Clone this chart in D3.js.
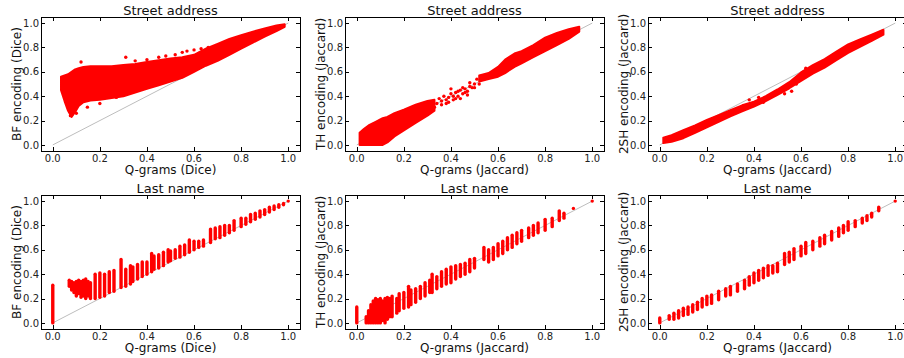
<!DOCTYPE html>
<html>
<head>
<meta charset="utf-8">
<script src="https://cdn.jsdelivr.net/npm/d3@7"></script>
<style>
  body { margin: 0; background: #fff; }
  svg { font-family: "DejaVu Sans", sans-serif; }
</style>
</head>
<body>
<svg id="chart" width="904" height="358"></svg>
<script>
// axis ticks shared by every panel
const tickValues = [0.0, 0.2, 0.4, 0.6, 0.8, 1.0];

// Street address: dense clouds read as envelopes [x, yLow, yHigh]
const streetBF = [
  [0.035, 0.45, 0.56], [0.05, 0.36, 0.57], [0.065, 0.28, 0.58], [0.08, 0.23, 0.6],
  [0.095, 0.27, 0.62], [0.11, 0.32, 0.63], [0.13, 0.35, 0.64], [0.16, 0.365, 0.645],
  [0.2, 0.37, 0.645], [0.25, 0.385, 0.645], [0.3, 0.4, 0.655], [0.35, 0.43, 0.665],
  [0.4, 0.46, 0.68], [0.45, 0.49, 0.695], [0.5, 0.52, 0.71], [0.55, 0.55, 0.72],
  [0.6, 0.6, 0.74], [0.65, 0.65, 0.79], [0.7, 0.69, 0.83], [0.75, 0.74, 0.87],
  [0.8, 0.79, 0.9], [0.85, 0.84, 0.93], [0.9, 0.89, 0.955], [0.95, 0.935, 0.98],
  [0.985, 0.97, 0.99]
];
const streetBFOut = [
  [0.31, 0.72], [0.12, 0.68], [0.147, 0.31], [0.27, 0.39], [0.45, 0.72], [0.52, 0.74],
  [0.57, 0.77], [0.6, 0.78], [0.62, 0.75], [0.66, 0.8], [0.1, 0.26], [0.075, 0.24],
  [0.4, 0.7], [0.48, 0.73], [0.55, 0.76], [0.63, 0.79], [0.2, 0.34], [0.35, 0.69]
];

const streetTH = [
  [0.012, 0.0, 0.1], [0.03, 0.0, 0.13], [0.05, 0.0, 0.16], [0.08, 0.0, 0.19],
  [0.11, 0.0, 0.22], [0.13, 0.02, 0.23], [0.16, 0.07, 0.26], [0.2, 0.12, 0.29],
  [0.25, 0.18, 0.33], [0.3, 0.24, 0.36], [0.33, 0.28, 0.37]
];
const streetTH2 = [
  [0.52, 0.52, 0.57], [0.56, 0.54, 0.59], [0.6, 0.56, 0.64], [0.63, 0.59, 0.7],
  [0.67, 0.64, 0.75], [0.7, 0.67, 0.77], [0.75, 0.72, 0.82], [0.8, 0.77, 0.88],
  [0.85, 0.82, 0.92], [0.9, 0.87, 0.95], [0.945, 0.93, 0.97]
];
const streetTHOut = [
  [0.36, 0.33], [0.38, 0.37], [0.4, 0.42], [0.42, 0.38], [0.44, 0.45], [0.45, 0.42],
  [0.47, 0.44], [0.48, 0.48], [0.4, 0.46], [0.37, 0.4], [0.43, 0.4], [0.5, 0.5],
  [0.39, 0.35], [0.41, 0.4], [0.46, 0.46], [0.49, 0.47], [0.35, 0.38], [0.44, 0.38],
  [0.51, 0.54], [0.48, 0.51], [0.42, 0.43], [0.34, 0.34], [0.36, 0.36], [0.38, 0.34],
  [0.41, 0.37], [0.43, 0.44], [0.46, 0.43], [0.5, 0.47], [0.45, 0.47], [0.39, 0.39],
  [0.33, 0.31], [0.47, 0.41], [0.52, 0.5]
];

const street2SH = [
  [0.015, 0.015, 0.06], [0.05, 0.025, 0.08], [0.1, 0.055, 0.12], [0.15, 0.1, 0.16],
  [0.2, 0.145, 0.205], [0.25, 0.19, 0.245], [0.3, 0.235, 0.285], [0.35, 0.275, 0.325],
  [0.4, 0.315, 0.355], [0.45, 0.36, 0.4], [0.5, 0.41, 0.455], [0.55, 0.465, 0.515],
  [0.6, 0.525, 0.595], [0.65, 0.585, 0.655], [0.7, 0.635, 0.705], [0.75, 0.695, 0.765],
  [0.8, 0.755, 0.825], [0.85, 0.805, 0.865], [0.9, 0.855, 0.905], [0.95, 0.905, 0.945]
];
const street2SHOut = [
  [0.38, 0.37], [0.42, 0.39], [0.47, 0.4], [0.52, 0.45], [0.53, 0.42], [0.44, 0.35],
  [0.56, 0.44], [0.58, 0.5], [0.62, 0.63]
];

// Last name: discrete columns [x, yLow, yHigh]
const lastBF = [
  [0.0, 0.0, 0.31], [0.07, 0.3, 0.35], [0.08, 0.27, 0.34], [0.09, 0.25, 0.33],
  [0.1, 0.22, 0.34], [0.11, 0.24, 0.35], [0.12, 0.21, 0.34], [0.13, 0.22, 0.35],
  [0.14, 0.2, 0.36], [0.15, 0.22, 0.34], [0.16, 0.2, 0.33], [0.18, 0.2, 0.4],
  [0.2, 0.21, 0.41], [0.22, 0.22, 0.4], [0.24, 0.25, 0.42], [0.26, 0.26, 0.43],
  [0.29, 0.29, 0.52], [0.31, 0.3, 0.44], [0.33, 0.32, 0.47], [0.34, 0.34, 0.46],
  [0.36, 0.36, 0.48], [0.38, 0.38, 0.5], [0.4, 0.4, 0.5], [0.42, 0.42, 0.57],
  [0.43, 0.44, 0.55], [0.45, 0.45, 0.56], [0.47, 0.47, 0.58], [0.49, 0.5, 0.6],
  [0.5, 0.51, 0.59], [0.52, 0.53, 0.6], [0.54, 0.54, 0.63], [0.56, 0.56, 0.64],
  [0.58, 0.58, 0.68], [0.6, 0.6, 0.67], [0.62, 0.62, 0.67], [0.64, 0.63, 0.68],
  [0.67, 0.66, 0.77], [0.69, 0.69, 0.78], [0.71, 0.7, 0.79], [0.73, 0.72, 0.8],
  [0.75, 0.74, 0.8], [0.77, 0.76, 0.84], [0.8, 0.79, 0.86], [0.82, 0.81, 0.86],
  [0.84, 0.83, 0.89], [0.86, 0.85, 0.9], [0.88, 0.87, 0.92], [0.9, 0.89, 0.93],
  [0.92, 0.91, 0.95], [0.94, 0.93, 0.96], [0.96, 0.95, 0.97], [0.98, 0.97, 0.98],
  [1.0, 1.0, 1.0]
];
const lastTH = [
  [0.0, 0.0, 0.13], [0.04, 0.0, 0.05], [0.05, 0.0, 0.1], [0.06, 0.0, 0.15],
  [0.07, 0.0, 0.18], [0.08, 0.0, 0.2], [0.09, 0.0, 0.19], [0.1, 0.0, 0.2],
  [0.11, 0.02, 0.18], [0.12, 0.0, 0.2], [0.13, 0.03, 0.21], [0.14, 0.05, 0.2],
  [0.15, 0.05, 0.22], [0.17, 0.08, 0.2], [0.18, 0.1, 0.24], [0.2, 0.12, 0.25],
  [0.22, 0.13, 0.3], [0.23, 0.15, 0.27], [0.25, 0.17, 0.28], [0.27, 0.2, 0.3],
  [0.29, 0.22, 0.33], [0.31, 0.25, 0.35], [0.32, 0.25, 0.4], [0.34, 0.28, 0.38],
  [0.36, 0.3, 0.42], [0.38, 0.32, 0.44], [0.4, 0.33, 0.46], [0.42, 0.36, 0.47],
  [0.44, 0.38, 0.48], [0.46, 0.4, 0.49], [0.48, 0.42, 0.52], [0.5, 0.45, 0.53],
  [0.54, 0.52, 0.62], [0.56, 0.5, 0.6], [0.58, 0.52, 0.62], [0.6, 0.55, 0.65],
  [0.62, 0.57, 0.67], [0.64, 0.6, 0.7], [0.66, 0.62, 0.72], [0.68, 0.65, 0.74],
  [0.7, 0.67, 0.76], [0.73, 0.7, 0.78], [0.75, 0.72, 0.8], [0.77, 0.74, 0.82],
  [0.8, 0.76, 0.85], [0.83, 0.79, 0.86], [0.86, 0.84, 0.92], [0.88, 0.86, 0.9],
  [0.92, 0.94, 0.94], [1.0, 1.0, 1.0]
];
const last2SH = [
  [0.0, 0.0, 0.04], [0.04, 0.03, 0.06], [0.06, 0.03, 0.08], [0.08, 0.04, 0.1],
  [0.1, 0.06, 0.12], [0.12, 0.07, 0.13], [0.14, 0.09, 0.15], [0.16, 0.11, 0.17],
  [0.18, 0.13, 0.2], [0.2, 0.15, 0.22], [0.22, 0.16, 0.23], [0.25, 0.19, 0.26],
  [0.28, 0.22, 0.28], [0.3, 0.23, 0.3], [0.33, 0.26, 0.32], [0.36, 0.28, 0.35],
  [0.38, 0.31, 0.38], [0.4, 0.33, 0.41], [0.42, 0.35, 0.43], [0.44, 0.37, 0.45],
  [0.46, 0.39, 0.47], [0.48, 0.41, 0.47], [0.5, 0.42, 0.49], [0.53, 0.48, 0.57],
  [0.55, 0.5, 0.58], [0.57, 0.52, 0.61], [0.6, 0.55, 0.63], [0.62, 0.57, 0.66],
  [0.65, 0.6, 0.67], [0.68, 0.63, 0.7], [0.7, 0.65, 0.72], [0.73, 0.68, 0.75],
  [0.76, 0.71, 0.78], [0.78, 0.74, 0.8], [0.8, 0.76, 0.83], [0.83, 0.79, 0.84],
  [0.86, 0.82, 0.86], [0.88, 0.84, 0.88], [0.9, 0.87, 0.9], [0.93, 0.92, 0.95],
  [1.0, 1.0, 1.0]
];

const titles = ["Street address", "Last name"];
const yLabels = ["BF encoding (Dice)", "TH encoding (Jaccard)", "2SH encoding (Jaccard)"];
const xLabels = ["Q-grams (Dice)", "Q-grams (Jaccard)", "Q-grams (Jaccard)"];

const panels = [
  { row: 0, col: 0, areas: [streetBF], points: streetBFOut },
  { row: 0, col: 1, areas: [streetTH, streetTH2], points: streetTHOut },
  { row: 0, col: 2, areas: [street2SH], points: street2SHOut },
  { row: 1, col: 0, strips: lastBF },
  { row: 1, col: 1, strips: lastTH },
  { row: 1, col: 2, strips: last2SH }
];

const colLeft = [41, 345, 648];
const rowTop = [17, 195];
const pw = 259, ph = 134;
const red = "#ff0000";
const r = 1.7;

const svg = d3.select("#chart");

panels.forEach(p => {
  const g = svg.append("g")
    .attr("transform", `translate(${colLeft[p.col]},${rowTop[p.row]})`);

  const x = d3.scaleLinear().domain([-0.05, 1.05]).range([0, pw]);
  const y = d3.scaleLinear().domain([-0.05, 1.05]).range([ph, 0]);

  // identity line
  g.append("line")
    .attr("x1", x(0)).attr("y1", y(0))
    .attr("x2", x(1)).attr("y2", y(1))
    .attr("stroke", "#bdbdbd").attr("stroke-width", 1);

  if (p.areas) {
    const area = d3.area()
      .x(d => x(d[0]))
      .y0(d => y(d[1]))
      .y1(d => y(d[2]));
    p.areas.forEach(a => {
      g.append("path")
        .attr("d", area(a))
        .attr("fill", red)
        .attr("stroke", red)
        .attr("stroke-width", 2)
        .attr("stroke-linejoin", "round");
    });
    g.append("g").selectAll("circle")
      .data(p.points)
      .enter().append("circle")
      .attr("cx", d => x(d[0]))
      .attr("cy", d => y(d[1]))
      .attr("r", r)
      .attr("fill", red);
  }

  if (p.strips) {
    g.append("g").selectAll("rect")
      .data(p.strips)
      .enter().append("rect")
      .attr("x", d => x(d[0]) - r)
      .attr("y", d => y(d[2]) - r)
      .attr("width", 2 * r)
      .attr("height", d => y(d[1]) - y(d[2]) + 2 * r)
      .attr("rx", r)
      .attr("fill", red);
  }

  // inward ticks on all four sides
  const tk = g.append("g").attr("stroke", "#000").attr("stroke-width", 1);
  tickValues.forEach(t => {
    const xx = Math.round(x(t)) + 0.5, yy = Math.round(y(t)) + 0.5;
    tk.append("line").attr("x1", xx).attr("x2", xx).attr("y1", ph).attr("y2", ph - 4);
    tk.append("line").attr("x1", xx).attr("x2", xx).attr("y1", 0).attr("y2", 4);
    tk.append("line").attr("y1", yy).attr("y2", yy).attr("x1", 0).attr("x2", 4);
    tk.append("line").attr("y1", yy).attr("y2", yy).attr("x1", pw).attr("x2", pw - 4);
  });

  g.append("rect")
    .attr("x", 0.5).attr("y", 0.5)
    .attr("width", pw).attr("height", ph)
    .attr("fill", "none").attr("stroke", "#000").attr("stroke-width", 1);

  g.append("g").selectAll("text.xt")
    .data(tickValues)
    .enter().append("text")
    .attr("x", d => x(d))
    .attr("y", ph + 11)
    .attr("text-anchor", "middle")
    .attr("font-size", 10)
    .attr("fill", "#222")
    .text(d => d.toFixed(1));

  g.append("g").selectAll("text.yt")
    .data(tickValues)
    .enter().append("text")
    .attr("x", -2)
    .attr("y", d => y(d) + 3.6)
    .attr("text-anchor", "end")
    .attr("font-size", 10)
    .attr("fill", "#222")
    .text(d => d.toFixed(1));

  g.append("text")
    .attr("x", pw / 2).attr("y", -2.5)
    .attr("text-anchor", "middle")
    .attr("font-size", 13)
    .attr("fill", "#111")
    .text(titles[p.row]);

  g.append("text")
    .attr("x", pw / 2).attr("y", ph + 23)
    .attr("text-anchor", "middle")
    .attr("font-size", 12)
    .attr("fill", "#111")
    .text(xLabels[p.col]);

  g.append("text")
    .attr("transform", `translate(-20,${ph / 2}) rotate(-90)`)
    .attr("text-anchor", "middle")
    .attr("font-size", 12)
    .attr("fill", "#111")
    .text(yLabels[p.col]);
});
</script>
</body>
</html>
